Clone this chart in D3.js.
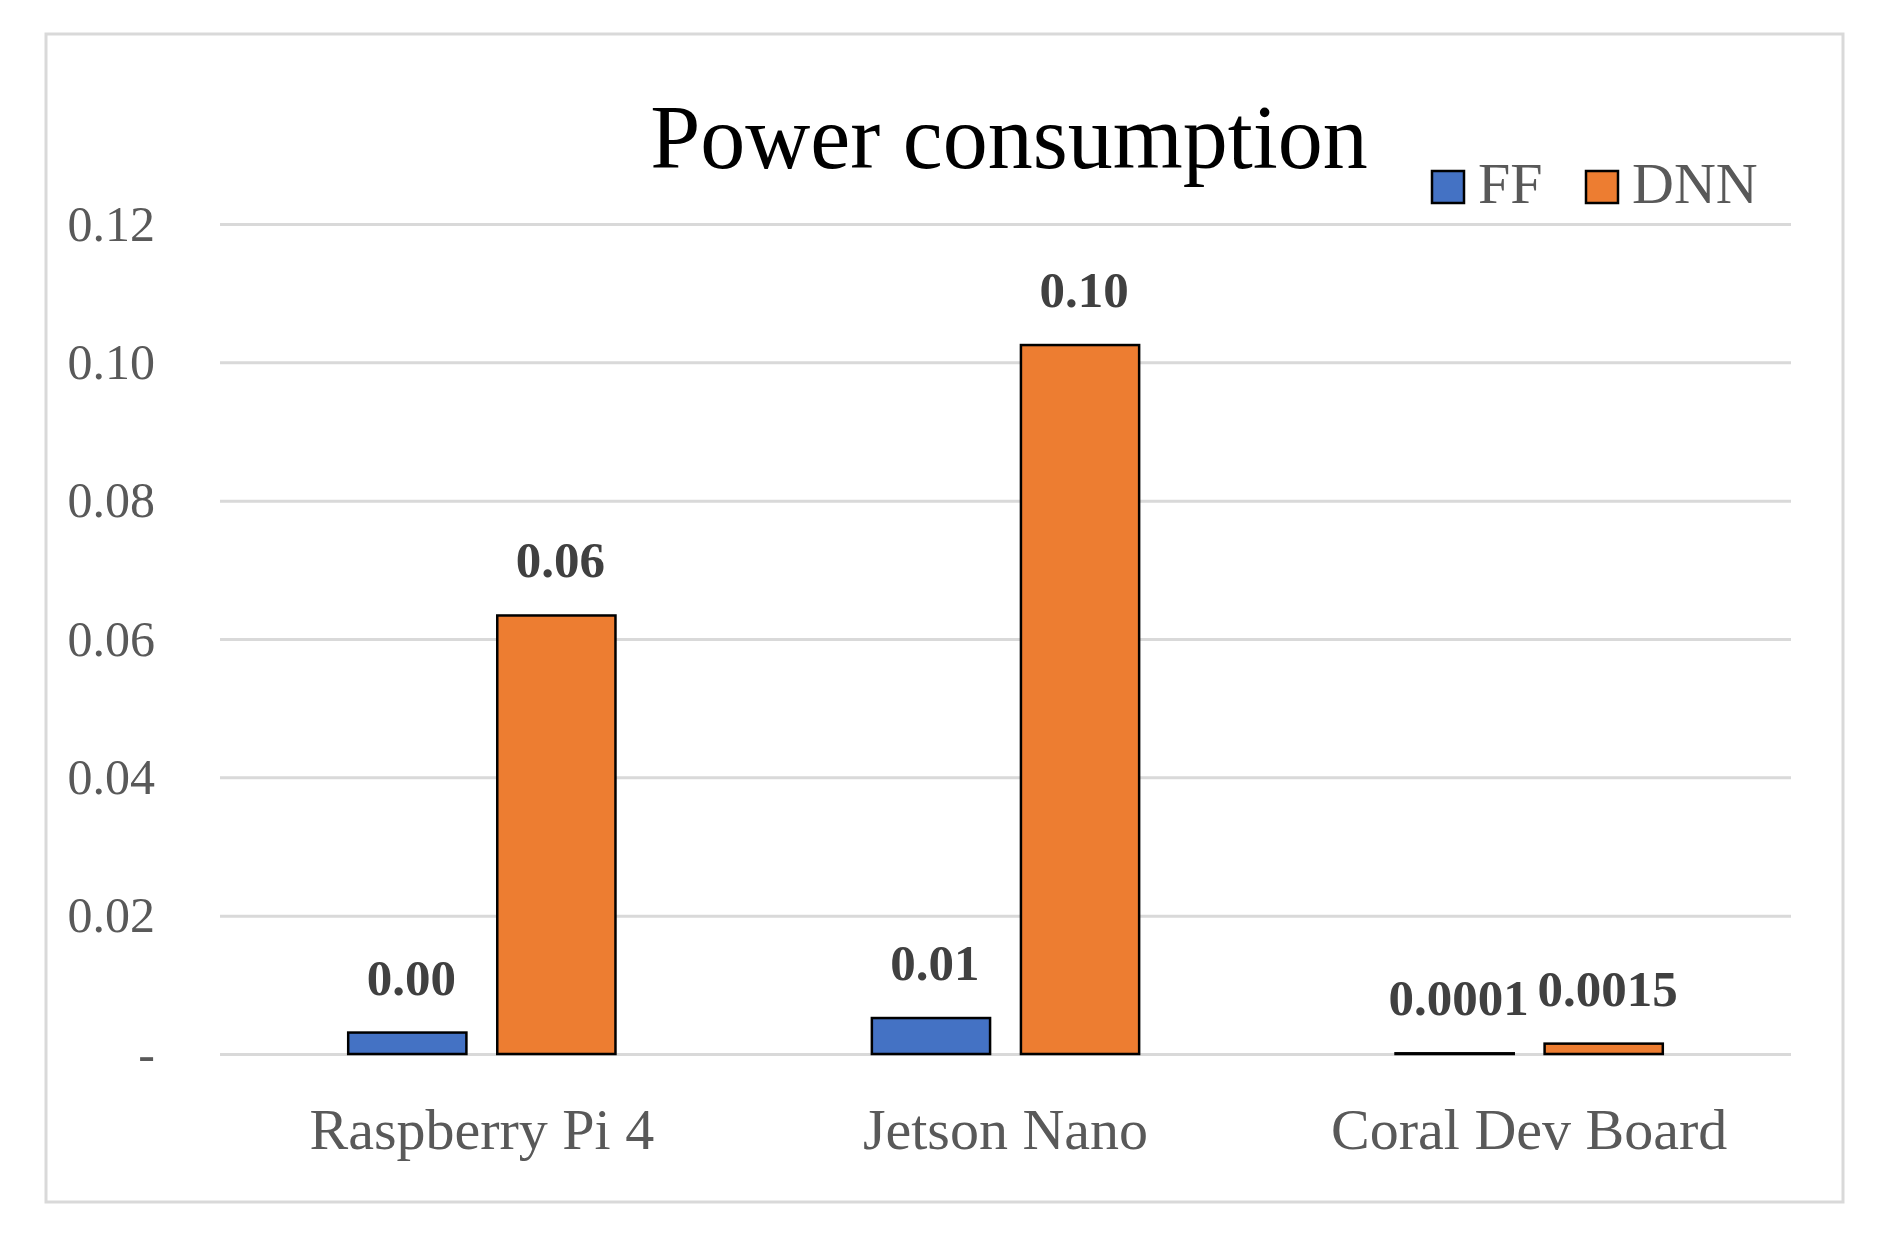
<!DOCTYPE html>
<html>
<head>
<meta charset="utf-8">
<script src="https://cdn.jsdelivr.net/npm/d3@7"></script>
<style>
  body { margin: 0; background: #fff; }
  text { font-family: "Liberation Serif", "Times New Roman", serif; }
</style>
</head>
<body>
<div id="chart-area"></div>
<script>
// data
var categories = ["Raspberry Pi 4", "Jetson Nano", "Coral Dev Board"];
var seriesNames = ["FF", "DNN"];
var ffValues = [0.0031, 0.0052, 0.0001];
var dnnValues = [0.0634, 0.1025, 0.0015];
var ffLabels = ["0.00", "0.01", "0.0001"];
var dnnLabels = ["0.06", "0.10", "0.0015"];
var yTicks = [0, 0.02, 0.04, 0.06, 0.08, 0.10, 0.12];

var colors = { FF: "#4472C4", DNN: "#ED7D31" };

var W = 1877, H = 1244;
var margin = { left: 220, right: 86, top: 224, bottom: 190 };
var width = W - margin.left - margin.right,
    height = H - margin.top - margin.bottom;

var svg = d3.select("#chart-area").append("svg")
    .attr("width", W)
    .attr("height", H);

// chart border
svg.append("rect")
    .attr("x", 46).attr("y", 34)
    .attr("width", 1797).attr("height", 1168)
    .attr("fill", "#fff")
    .attr("stroke", "#d9d9d9")
    .attr("stroke-width", 3);

var g = svg.append("g").attr("transform", "translate(" + margin.left + ", " + margin.top + ")");

var rows = categories.map(function(c, i) {
    return {
        category: c,
        values: [
            { key: "FF", value: ffValues[i], label: ffLabels[i] },
            { key: "DNN", value: dnnValues[i], label: dnnLabels[i] }
        ]
    };
});

var x0 = d3.scaleBand().domain(categories).range([0, width]).padding(0);
var x1 = d3.scaleBand().domain(seriesNames).range([0, x0.bandwidth()])
    .paddingInner(0.207).paddingOuter(0.86);
var y = d3.scaleLinear().domain([0, 0.12]).range([height, 0]);

// Y axis + gridlines
var yAxis = d3.axisLeft(y)
    .tickValues(yTicks)
    .tickSize(-width)
    .tickPadding(65)
    .tickFormat(function(d) { return d === 0 ? "-" : d3.format(".2f")(d); });

var yAxisGroup = g.append("g").attr("class", "y axis").call(yAxis);
yAxisGroup.select(".domain").remove();
yAxisGroup.selectAll(".tick line")
    .attr("stroke", "#d9d9d9")
    .attr("stroke-width", 3);
yAxisGroup.selectAll(".tick text")
    .attr("font-size", "50px")
    .attr("fill", "#595959");

// X axis
var xAxis = d3.axisBottom(x0).tickSize(0).tickPadding(54);
var xAxisGroup = g.append("g")
    .attr("class", "x axis")
    .attr("transform", "translate(0, " + height + ")")
    .call(xAxis);
xAxisGroup.select(".domain").remove();
xAxisGroup.selectAll(".tick text")
    .attr("font-size", "58px")
    .attr("fill", "#595959");

// bars
var groups = g.selectAll(".cat")
    .data(rows)
    .enter().append("g")
    .attr("class", "cat")
    .attr("transform", function(d) { return "translate(" + x0(d.category) + ",0)"; });

groups.selectAll("rect")
    .data(function(d) { return d.values; })
    .enter().append("rect")
    .attr("x", function(d) { return x1(d.key); })
    .attr("y", function(d) { return y(d.value); })
    .attr("width", x1.bandwidth())
    .attr("height", function(d) { return height - y(d.value); })
    .attr("fill", function(d) { return colors[d.key]; })
    .attr("stroke", "#000")
    .attr("stroke-width", 2.5);

// data labels
groups.selectAll(".value-label")
    .data(function(d) { return d.values; })
    .enter().append("text")
    .attr("class", "value-label")
    .attr("x", function(d) { return x1(d.key) + x1.bandwidth() / 2 + 4; })
    .attr("y", function(d) { return y(d.value) - 38; })
    .attr("text-anchor", "middle")
    .attr("font-size", "51px")
    .attr("font-weight", "bold")
    .attr("fill", "#404040")
    .text(function(d) { return d.label; });

// title
svg.append("text")
    .attr("x", 1009)
    .attr("y", 168)
    .attr("text-anchor", "middle")
    .attr("font-size", "90px")
    .attr("fill", "#000")
    .text("Power consumption");

// legend
var legendX = [1432, 1586];
var legend = svg.selectAll(".legend")
    .data(seriesNames)
    .enter().append("g")
    .attr("class", "legend")
    .attr("transform", function(d, i) { return "translate(" + legendX[i] + ", 171)"; });

legend.append("rect")
    .attr("width", 32)
    .attr("height", 32)
    .attr("fill", function(d) { return colors[d]; })
    .attr("stroke", "#000")
    .attr("stroke-width", 2.5);

legend.append("text")
    .attr("x", 46)
    .attr("y", 32)
    .attr("font-size", "58px")
    .attr("fill", "#595959")
    .text(function(d) { return d; });
</script>
</body>
</html>
